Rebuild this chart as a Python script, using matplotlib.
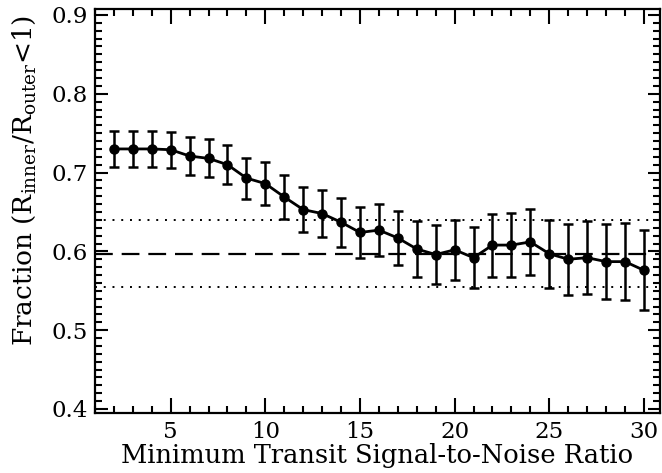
import numpy as np
import matplotlib
matplotlib.use("Agg")
import matplotlib.pyplot as plt
from matplotlib.ticker import MultipleLocator

# Datos
snr = [2, 3, 4, 5, 6, 7, 8, 9, 10, 11, 12, 13, 14, 15, 16,
       17, 18, 19, 20, 21, 22, 23, 24, 25, 26, 27, 28, 29, 30]
fraccion = [0.730, 0.730, 0.730, 0.729, 0.721, 0.718, 0.710, 0.693, 0.686,
            0.669, 0.653, 0.648, 0.637, 0.624, 0.627, 0.617, 0.603, 0.596,
            0.602, 0.592, 0.608, 0.608, 0.612, 0.597, 0.590, 0.592, 0.587,
            0.587, 0.576]
error = [0.023, 0.023, 0.023, 0.023, 0.024, 0.024, 0.025, 0.026, 0.027,
         0.028, 0.029, 0.030, 0.031, 0.032, 0.033, 0.034, 0.0355, 0.037,
         0.038, 0.039, 0.040, 0.041, 0.042, 0.043, 0.045, 0.046, 0.0475,
         0.0485, 0.051]
media = 0.597
sigma = 0.0427

plt.rcParams['font.family'] = 'DejaVu Serif'
plt.rcParams['mathtext.fontset'] = 'dejavuserif'

fig = plt.figure(figsize=(6.62, 4.73), dpi=100)
ax = fig.add_axes([0.1435, 0.1275, 0.8535, 0.8525])

ax.axhline(media, color='black', lw=1.6, dashes=(8, 4))
ax.axhline(media + sigma, color='black', lw=1.4, dashes=(1, 3.5))
ax.axhline(media - sigma, color='black', lw=1.4, dashes=(1, 3.5))

ax.errorbar(snr, fraccion, yerr=error, color='black', lw=2, marker='o',
            markersize=6.5, elinewidth=1.8, capsize=3.5, capthick=1.8)

ax.set_xlim(1, 30.85)
ax.set_ylim(0.3953, 0.907)
ax.xaxis.set_major_locator(MultipleLocator(5))
ax.xaxis.set_minor_locator(MultipleLocator(1))
ax.yaxis.set_major_locator(MultipleLocator(0.1))
ax.yaxis.set_minor_locator(MultipleLocator(0.01))
ax.yaxis.set_major_formatter(matplotlib.ticker.FormatStrFormatter('%.1f'))

ax.tick_params(which='both', direction='in', top=True, right=True,
               labelsize=16.5, width=1.5)
ax.tick_params(axis='x', which='major', length=11, pad=6)
ax.tick_params(axis='x', which='minor', length=5)
ax.tick_params(axis='y', which='major', length=9, pad=5)
ax.tick_params(axis='y', which='minor', length=5)
for s in ax.spines.values():
    s.set_linewidth(1.6)

ax.set_xlabel('Minimum Transit Signal-to-Noise Ratio', fontsize=18.5, labelpad=0)
ax.set_ylabel(r'Fraction (R$_{\rm inner}$/R$_{\rm outer}$<1)', fontsize=19)
ax.yaxis.set_label_coords(-0.10, 0.575)

plt.savefig('out.png', dpi=100)
